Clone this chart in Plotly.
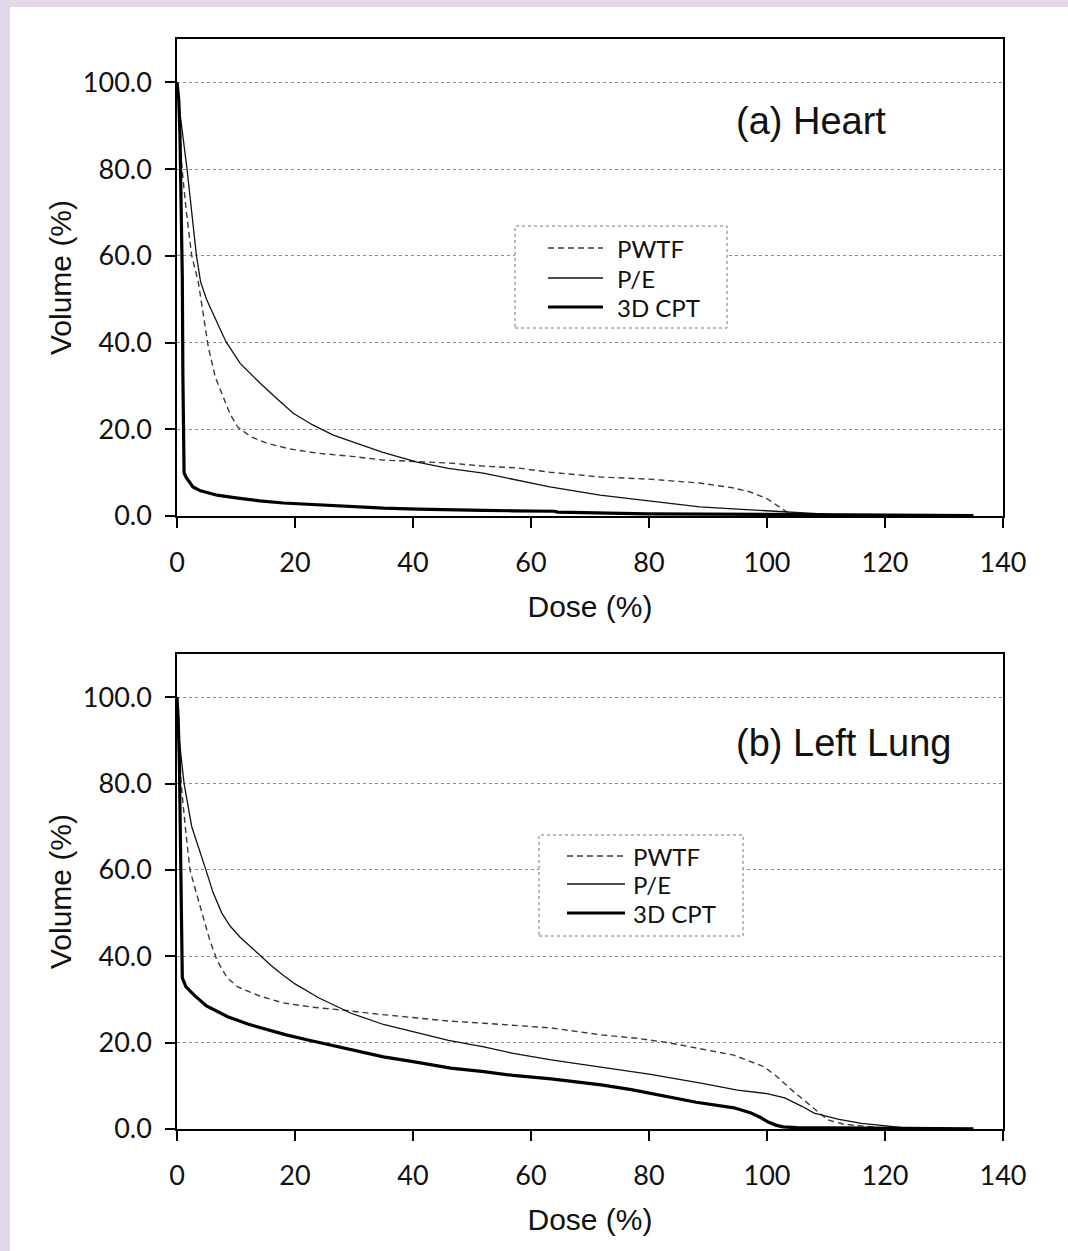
import plotly.graph_objects as go

W, H = 1068, 1251

series_names = ["PWTF", "P/E", "3D CPT"]
panel_labels = ["(a) Heart", "(b) Left Lung"]
x_ticks = [0, 20, 40, 60, 80, 100, 120, 140]
y_ticks = [0, 20, 40, 60, 80, 100]

# ---- (a) Heart ----
heart_pwtf_dose = [0, 0.4, 0.85, 1.6, 2.5, 3.6, 4.4, 5.3, 6.5, 7.8, 9, 10.3, 12.5, 15.2, 19, 23.7, 30, 34.9, 40, 46.3,
                   52, 57.6, 63.2, 71.7, 80, 88.6, 94.2, 97, 100, 102, 103.4, 105.6, 108, 110]
heart_pwtf_vol = [100, 93, 80, 70, 60, 54, 47, 39, 32, 27.4, 23.5, 20.5, 18.3, 16.8, 15.5, 14.5, 13.7, 12.9, 12.6, 12.2,
                  11.5, 11.1, 10.1, 9.0, 8.5, 7.6, 6.5, 5.6, 4.0, 2.2, 0.9, 0.5, 0.2, 0]
heart_pe_dose = [0, 0.5, 1.7, 2.5, 3.3, 4.0, 5.0, 6.0, 8.3, 10.7, 14.1, 17, 19.7, 23, 26.4, 30, 34.9, 40.7, 46, 51.9,
                 57, 63.2, 71.7, 80, 88.6, 95, 100, 107, 112, 115]
heart_pe_vol = [100, 93, 80, 70, 60, 54, 50, 47, 40.2, 35.2, 30.6, 27, 23.7, 21, 18.7, 17, 14.7, 12.4, 11, 9.9,
                8.5, 6.7, 4.8, 3.4, 2.1, 1.6, 1.2, 0.7, 0.2, 0]
heart_cpt_dose = [0, 0.3, 0.5, 0.7, 0.9, 1.0, 1.1, 1.2, 1.5, 2, 2.7, 4, 6.8, 10, 14, 18, 24, 29.3, 35, 40.7, 46, 51.9,
                  57, 64, 64.5, 72, 79.7, 90, 100, 110, 120, 130, 135]
heart_cpt_vol = [100, 96, 88, 72, 55, 32, 15, 10, 9, 8, 6.7, 5.8, 4.8, 4.2, 3.5, 3.0, 2.6, 2.1, 1.8, 1.6, 1.4, 1.3,
                 1.2, 1.1, 0.9, 0.7, 0.5, 0.45, 0.4, 0.3, 0.2, 0.15, 0.1]

# ---- (b) Left Lung ----
lung_pwtf_dose = [0, 0.3, 0.7, 1.4, 2.2, 3.2, 4.3, 5.5, 6.8, 8.5, 10.3, 14, 18, 23, 28.3, 34, 40.8, 46, 52, 58, 63.4,
                  71.9, 78, 83.2, 88, 94.4, 99.5, 102, 103.6, 105.5, 106.9, 108.5, 110.3, 113, 116, 120, 123]
lung_pwtf_vol = [100, 90, 80, 70, 60, 55, 50, 44, 39, 35, 32.9, 30.8, 29.2, 28.2, 27.5, 26.6, 25.7, 25, 24.5, 23.9,
                 23.4, 21.8, 21, 20, 18.8, 17.1, 14.4, 11.8, 9.7, 7.5, 6.0, 4, 2.1, 1.1, 0.7, 0.2, 0]
lung_pe_dose = [0, 0.4, 1.2, 2.5, 4.9, 6.1, 7.6, 9, 10.7, 14.2, 16, 18, 20, 24, 29.5, 35, 40.8, 46, 52, 57, 63.4,
                71.9, 80, 88.8, 95, 100, 103, 106, 108, 112, 116, 119, 122.5, 125]
lung_pe_vol = [100, 90, 80, 70, 60, 54.8, 50, 47, 44.4, 40, 37.8, 35.6, 33.6, 30.4, 26.8, 24.2, 22.2, 20.5, 19, 17.5,
               16, 14.4, 12.7, 10.6, 9, 8.2, 7.2, 5.2, 3.7, 2.3, 1.3, 0.9, 0.3, 0]
lung_cpt_dose = [0, 0.2, 0.4, 0.5, 0.6, 0.7, 0.8, 0.9, 1.5, 2.9, 5, 8.6, 12, 15.4, 18.5, 22.2, 28, 35, 40, 46.4, 52,
                 57, 63.4, 67, 71.9, 77, 83.2, 88, 94.4, 97.3, 99, 100.2, 101.5, 102.7, 105, 115, 125, 135]
lung_cpt_vol = [100, 95, 85, 75, 60, 50, 40, 35, 33, 31, 28.5, 26, 24.3, 22.9, 21.8, 20.6, 18.8, 16.7, 15.6, 14.1,
                13.3, 12.4, 11.6, 11, 10.2, 9.1, 7.4, 6.2, 4.9, 3.7, 2.6, 1.6, 0.9, 0.5, 0.3, 0.2, 0.1, 0.05]

styles = [
    dict(color="#3a3a3a", width=1.4, dash="6px,4px"),
    dict(color="#111111", width=1.3),
    dict(color="#000000", width=3.2),
]

panels = [
    ([(heart_pwtf_dose, heart_pwtf_vol), (heart_pe_dose, heart_pe_vol), (heart_cpt_dose, heart_cpt_vol)], "x", "y"),
    ([(lung_pwtf_dose, lung_pwtf_vol), (lung_pe_dose, lung_pe_vol), (lung_cpt_dose, lung_cpt_vol)], "x2", "y2"),
]

fig = go.Figure()
for data, xa, ya in panels:
    for name, (dx, vy), st in zip(series_names, data, styles):
        fig.add_trace(go.Scatter(x=dx, y=vy, mode="lines", name=name, line=st,
                                 xaxis=xa, yaxis=ya, showlegend=False))


def px_x(p):
    return p / W


def px_y(p):
    return 1 - p / H


tick_font = dict(family="Lato", size=27, color="#111111")
title_font = dict(family="Liberation Sans, Arial", size=30, color="#111111")

axis_common_x = dict(range=[0, 140], tickvals=x_ticks, showgrid=False, zeroline=False, automargin=False,
                     showline=True, linecolor="#000000", linewidth=1.5, mirror=True,
                     ticks="outside", ticklen=10, tickwidth=1.5, tickcolor="#000000",
                     tickfont=tick_font, ticklabelstandoff=12,
                     title=dict(text="Dose (%)", font=title_font, standoff=19))
axis_common_y = dict(range=[0, 110], tickvals=y_ticks, tickformat=".1f", showgrid=True, automargin=False,
                     gridcolor="#8a8a8a", griddash="dot", gridwidth=1, zeroline=False,
                     showline=True, linecolor="#000000", linewidth=1.5, mirror=True,
                     ticks="outside", ticklen=10, tickwidth=1.5, tickcolor="#000000",
                     tickfont=tick_font, ticklabelstandoff=8,
                     title=dict(text="Volume (%)", font=title_font, standoff=2))

xdom = [px_x(177), px_x(1003)]
fig.update_layout(
    width=W, height=H, autosize=False,
    margin=dict(l=0, r=0, t=0, b=0, pad=0, autoexpand=False),
    paper_bgcolor="#ffffff", plot_bgcolor="#ffffff",
    xaxis=dict(domain=xdom, anchor="y", **axis_common_x),
    yaxis=dict(domain=[px_y(516), px_y(39)], anchor="x", **axis_common_y),
    xaxis2=dict(domain=xdom, anchor="y2", **axis_common_x),
    yaxis2=dict(domain=[px_y(1129), px_y(654)], anchor="x2", **axis_common_y),
    showlegend=False,
)

# lavender page border
fig.add_shape(type="rect", xref="paper", yref="paper", x0=0, x1=px_x(10), y0=0, y1=1,
              fillcolor="#e1d9e7", line_width=0, layer="below")
fig.add_shape(type="rect", xref="paper", yref="paper", x0=0, x1=1, y0=px_y(7), y1=1,
              fillcolor="#e1d9e7", line_width=0, layer="below")

# legend boxes (dotted frame, line samples, labels)
legend_boxes = [
    dict(box=(515, 727, 226, 328), line_x=(548, 603), text_x=615, rows=(248, 278, 307)),
    dict(box=(539, 743, 835, 936), line_x=(567, 625), text_x=631, rows=(856, 884, 913)),
]
for lb in legend_boxes:
    x0, x1, y0, y1 = lb["box"]
    fig.add_shape(type="rect", xref="paper", yref="paper", x0=px_x(x0), x1=px_x(x1), y0=px_y(y1), y1=px_y(y0),
                  fillcolor="#ffffff", line=dict(color="#777777", width=1, dash="dot"), layer="above")
    for name, st, ry in zip(series_names, styles, lb["rows"]):
        fig.add_shape(type="line", xref="paper", yref="paper",
                      x0=px_x(lb["line_x"][0]), x1=px_x(lb["line_x"][1]), y0=px_y(ry), y1=px_y(ry),
                      line=st, layer="above")
        fig.add_annotation(text=name, xref="paper", yref="paper", x=px_x(lb["text_x"]), y=px_y(ry),
                           xanchor="left", yanchor="middle", showarrow=False,
                           font=dict(family="Lato", size=24, color="#111111"))

for label, xa, ya, yv in [(panel_labels[0], "x", "y", 91), (panel_labels[1], "x2", "y2", 89.5)]:
    fig.add_annotation(text=label, xref=xa + " domain", yref=ya, x=(734 - 177) / 826, y=yv,
                       xanchor="left", yanchor="middle", showarrow=False,
                       font=dict(family="Liberation Sans, Arial", size=38, color="#111111"))

fig.write_html("out.html", config={"displayModeBar": False},
               post_script="document.body.style.margin='0px';document.body.style.overflow='hidden';")
